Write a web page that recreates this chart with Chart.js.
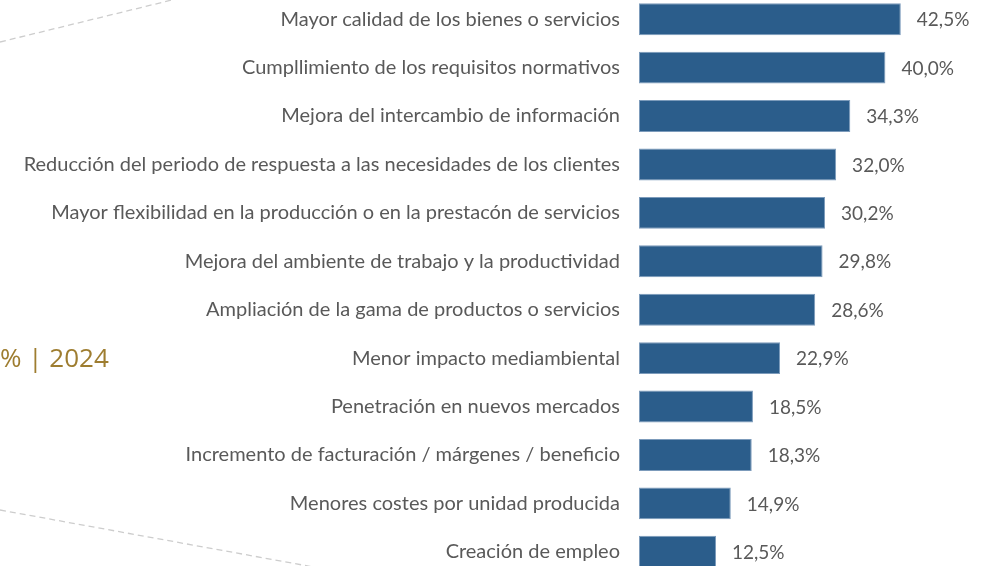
<!DOCTYPE html>
<html lang="es">
<head>
<meta charset="utf-8">
<title>Beneficios de la digitalización</title>
<script src="https://cdn.jsdelivr.net/npm/chart.js@4"></script>
<style>
  html, body { margin: 0; padding: 0; background: #fff; overflow: hidden; }
  body { width: 986px; height: 566px; position: relative; }
  #wrap { position: absolute; left: 0; top: -5px; width: 986px; height: 581px; }
  #year {
    position: absolute; left: 0; top: 340px;
    font-family: "Open Sans", sans-serif; font-size: 26px; color: #9E7D30;
    white-space: nowrap; line-height: 34px;
  }
</style>
</head>
<body>
<div id="wrap"><canvas id="chart"></canvas></div>
<div id="year">% | 2024</div>
<script>
const categories = [
  "Mayor calidad de los bienes o servicios",
  "Cumpllimiento de los requisitos normativos",
  "Mejora del intercambio de información",
  "Reducción del periodo de respuesta a las necesidades de los clientes",
  "Mayor flexibilidad en la producción o en la prestacón de servicios",
  "Mejora del ambiente de trabajo y la productividad",
  "Ampliación de la gama de productos o servicios",
  "Menor impacto mediambiental",
  "Penetración en nuevos mercados",
  "Incremento de facturación / márgenes / beneficio",
  "Menores costes por unidad producida",
  "Creación de empleo",
];
const values = [42.5, 40.0, 34.3, 32.0, 30.2, 29.8, 28.6, 22.9, 18.5, 18.3, 14.9, 12.5];

const FONT = "Lato, sans-serif";
const TEXT = "#595959";

// percentage written after each bar, with a decimal comma
const valueLabels = {
  id: "valueLabels",
  afterDatasetsDraw(chart) {
    const { ctx } = chart;
    const meta = chart.getDatasetMeta(0);
    ctx.save();
    ctx.font = `19px ${FONT}`;
    ctx.fillStyle = TEXT;
    ctx.textAlign = "left";
    ctx.textBaseline = "middle";
    meta.data.forEach((bar, i) => {
      const txt = values[i].toFixed(1).replace(".", ",") + "%";
      ctx.fillText(txt, bar.x + 16, bar.y + 1);
    });
    ctx.restore();
  },
};

// thin dashed guide strokes at the left edge
const guides = {
  id: "guides",
  beforeDraw(chart) {
    const { ctx } = chart;
    ctx.save();
    ctx.strokeStyle = "#CDCDCD";
    ctx.lineWidth = 1.3;
    ctx.setLineDash([6, 4]);
    ctx.beginPath();
    ctx.moveTo(0, 47);
    ctx.lineTo(176, 4);
    ctx.moveTo(0, 515);
    ctx.lineTo(330, 575);
    ctx.stroke();
    ctx.restore();
  },
};

const ctx = document.getElementById("chart").getContext("2d");

new Chart(ctx, {
  type: "bar",
  data: {
    labels: categories,
    datasets: [
      {
        data: values,
        backgroundColor: "#2B5D8B",
        borderColor: "#7C9BBB",
        borderWidth: 1,
        borderSkipped: false,
        barPercentage: 0.66,
        categoryPercentage: 1,
      },
    ],
  },
  options: {
    indexAxis: "y",
    responsive: true,
    maintainAspectRatio: false,
    animation: false,
    layout: { padding: { left: 0, right: 39, top: 0, bottom: 0 } },
    plugins: {
      legend: { display: false },
      tooltip: { enabled: false },
    },
    scales: {
      x: { display: false, min: 0, max: 50 },
      y: {
        grid: { display: false, drawTicks: false },
        border: { display: false },
        ticks: {
          padding: 19,
          color: TEXT,
          font: { family: FONT, size: 20 },
        },
        afterFit(scale) {
          // fixed label column; bars start at the same x on every row
          scale.width = 639;
          scale.paddingTop = 0;
          scale.paddingBottom = 0;
        },
      },
    },
  },
  plugins: [guides, valueLabels],
});
</script>
</body>
</html>
